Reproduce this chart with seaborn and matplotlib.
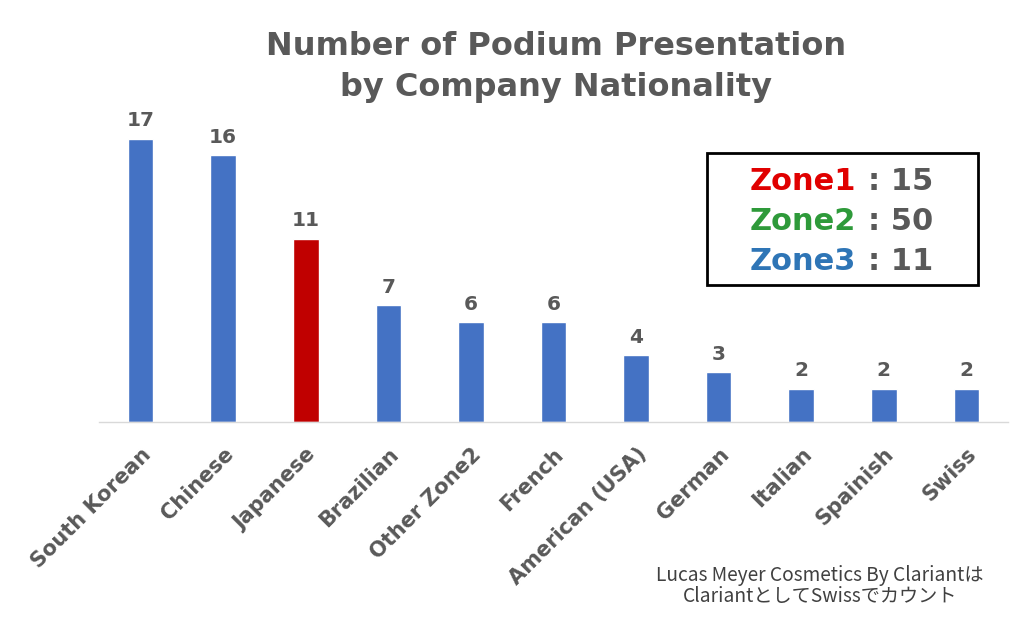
import matplotlib
matplotlib.use("Agg")
import matplotlib.pyplot as plt
import seaborn as sns
import pandas as pd
from matplotlib.patches import Rectangle

sns.set_theme(style="white")
plt.rcParams['font.family'] = ['DejaVu Sans', 'Noto Sans CJK JP']

# data
nationalities = ["South Korean", "Chinese", "Japanese", "Brazilian", "Other Zone2",
                 "French", "American (USA)", "German", "Italian", "Spainish", "Swiss"]
counts = [17, 16, 11, 7, 6, 6, 4, 3, 2, 2, 2]
zones = ["Zone1", "Zone2", "Zone3"]
zone_totals = [15, 50, 11]
zone_colors = ["#E00000", "#2E9A3A", "#2E75B6"]

GRAY = "#595959"
BLUE = "#4472C4"
RED = "#C00000"

df = pd.DataFrame({"Nationality": nationalities, "Count": counts})
bar_colors = [RED if n == "Japanese" else BLUE for n in nationalities]

fig = plt.figure(figsize=(10.24, 6.25), dpi=100)
ax = fig.add_axes([0.097, 0.325, 0.887, 0.533])

sns.barplot(data=df, x="Nationality", y="Count", hue="Nationality",
            palette=bar_colors, width=0.31, legend=False, ax=ax, saturation=1)

ax.set_ylim(0, 20)
ax.set_xlim(-0.5, len(nationalities) - 0.5)
ax.set_xlabel("")
ax.set_ylabel("")
ax.set_yticks([])
for s in ["top", "right", "left"]:
    ax.spines[s].set_visible(False)
ax.spines["bottom"].set_color("#D9D9D9")
ax.spines["bottom"].set_linewidth(1)

for c in ax.containers:
    ax.bar_label(c, fmt="%d", padding=6, fontsize=14.5, fontweight="bold", color=GRAY)

ax.tick_params(axis="x", length=0, pad=16)
plt.setp(ax.get_xticklabels(), rotation=45, ha="right", rotation_mode="anchor",
         fontsize=15, fontweight="bold", color=GRAY)

fig.text(0.543, 1 - 67 / 625, "Number of Podium Presentation\nby Company Nationality",
         ha="center", va="center", fontsize=23, fontweight="bold", color=GRAY,
         linespacing=1.4)

# zone summary box
fig.patches.append(Rectangle((707 / 1024, 1 - 285 / 625), 271 / 1024, 132 / 625,
                             transform=fig.transFigure, fill=False,
                             edgecolor="black", linewidth=2))
for i, (z, t, col) in enumerate(zip(zones, zone_totals, zone_colors)):
    y = 1 - (181 + i * 40) / 625
    fig.text(856 / 1024, y, z, ha="right", va="center", fontsize=22,
             fontweight="bold", color=col)
    fig.text(868 / 1024, y, f": {t}", ha="left", va="center", fontsize=22,
             fontweight="bold", color=GRAY)

fig.text(820 / 1024, 1 - 586 / 625,
         "Lucas Meyer Cosmetics By Clariantは\nClariantとしてSwissでカウント",
         ha="center", va="center", fontsize=13.8, color="#404040",
         family=["Noto Sans CJK JP", "DejaVu Sans"], linespacing=1.0)

fig.savefig("out.png", dpi=100)
